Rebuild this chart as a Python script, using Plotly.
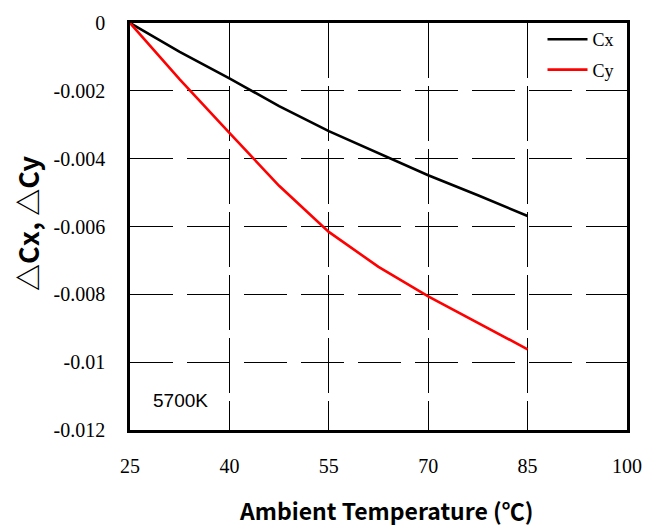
import plotly.graph_objects as go

# Ambient temperature (°C) and chromaticity shift at 5700K
temperature = [25, 32.5, 40, 47.5, 55, 62.5, 70, 77.5, 85]
delta_cx = [0.0, -0.00085, -0.00163, -0.00245, -0.00319, -0.00385, -0.00449, -0.00508, -0.00569]
delta_cy = [0.0, -0.00166, -0.00324, -0.00480, -0.00616, -0.00719, -0.00806, -0.00885, -0.00962]

x_ticks = [25, 40, 55, 70, 85, 100]
y_ticks = [0, -0.002, -0.004, -0.006, -0.008, -0.01, -0.012]
y_tick_text = ["0", "-0.002", "-0.004", "-0.006", "-0.008", "-0.01", "-0.012"]

serif = "Liberation Serif, Times New Roman, serif"
cjk = "Noto Sans CJK TC"

fig = go.Figure()
fig.add_trace(go.Scatter(x=temperature, y=delta_cx, mode="lines", name="Cx",
                         legendgroup="cx",
                         line=dict(color="#000000", width=2.6)))
fig.add_trace(go.Scatter(x=temperature, y=delta_cy, mode="lines", name="Cy",
                         legendgroup="cy",
                         line=dict(color="#ff0000", width=2.6)))

fig.update_layout(
    width=672, height=526,
    margin=dict(l=130, r=45, t=19, b=96),
    paper_bgcolor="white", plot_bgcolor="white",
    font=dict(family=serif, size=20, color="#000"),
    showlegend=True,
    legend=dict(x=0.83, y=1.0 + 2 / 411, xanchor="left", yanchor="top",
                font=dict(family=serif, size=18, color="#000"),
                itemwidth=40, tracegroupgap=4,
                bgcolor="rgba(0,0,0,0)"),
    xaxis=dict(range=[25, 100], tickvals=x_ticks, ticktext=[str(v) for v in x_ticks],
               showgrid=True, gridcolor="#000", gridwidth=1, griddash="55px,8px",
               showline=True, linecolor="#000", linewidth=2.5, mirror=True,
               ticks="", ticklabelstandoff=16,
               tickfont=dict(family=serif, size=20, color="#000"),
               zeroline=False, fixedrange=True),
    yaxis=dict(range=[-0.012, 0], tickvals=y_ticks, ticktext=y_tick_text,
               showgrid=True, gridcolor="#000", gridwidth=1, griddash="43px,14px",
               showline=True, linecolor="#000", linewidth=2.5, mirror=True,
               ticks="", ticklabelstandoff=18,
               tickfont=dict(family=serif, size=20, color="#000"),
               zeroline=False, fixedrange=True),
    annotations=[
        dict(text="<b>Ambient Temperature (℃)</b>", xref="paper", yref="paper",
             x=(386 - 130) / 497, y=-(511 - 430) / 411, xanchor="center", yanchor="middle",
             showarrow=False, font=dict(family=cjk, size=23, color="#000")),
        dict(text="<b>△Cx, △Cy</b>", xref="paper", yref="paper",
             x=(27 - 130) / 497, y=(430 - 222) / 411, xanchor="center", yanchor="middle",
             textangle=-90, showarrow=False,
             font=dict(family=cjk, size=27, color="#000")),
        dict(text="5700K", xref="paper", yref="paper",
             x=(151 - 130) / 497, y=(430 - 400) / 411, xanchor="left", yanchor="middle",
             showarrow=False, font=dict(family="Liberation Sans, Arial, sans-serif",
                                        size=19, color="#000")),
    ],
)

fig.write_html("out.html")
